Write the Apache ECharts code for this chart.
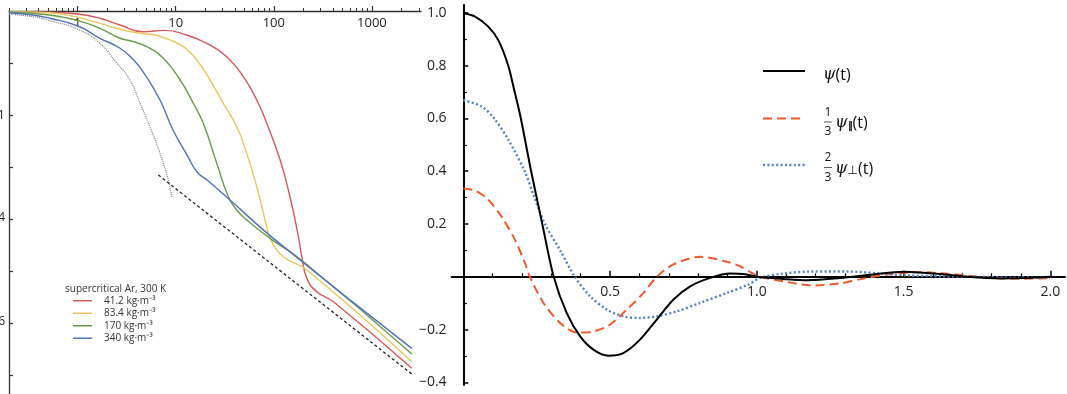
<!DOCTYPE html>
<html><head><meta charset="utf-8">
<script src="https://cdn.jsdelivr.net/npm/echarts@6/dist/echarts.min.js"></script>
<style>html,body{margin:0;padding:0;background:#fff}#c{width:1067px;height:394px}</style>
</head><body><div id="c"></div>
<script>
// ---------- Left panel (log-log) ----------
const leftXLabels = [1, 10, 100, 1000];
const leftYLabels = [1e-2, 1e-4, 1e-6];
const leftYTicks = [1e-7, 1e-6, 1e-5, 1e-4, 1e-3, 1e-2, 1e-1];
const leftLegendTitle = 'supercritical Ar, 300 K';
const densityNames = ['41.2 kg·m⁻³', '83.4 kg·m⁻³', '170 kg·m⁻³', '340 kg·m⁻³'];

const red412 = [[0.2,0.97],[0.52,0.944],[1.01,0.876],[1.69,0.724],[2.71,0.538],[4.65,0.40],[7.79,0.425],[12.9,0.345],[20.7,0.239],[33.1,0.132],[48.9,0.0545],[67,0.0194],[84.7,0.00692],[116,0.00136],[146,2.68e-4],[178,4.57e-5],[193,1.88e-5],[217,7.24e-6],[274,4.0e-6],[405,2.57e-6],[2547,1.35e-7]];
const yellow834 = [[0.2,0.969],[0.52,0.927],[1.01,0.756],[1.69,0.58],[2.71,0.445],[4.33,0.373],[6.16,0.345],[8.13,0.29],[12.0,0.206],[16.4,0.114],[22.4,0.0471],[30.6,0.0168],[41.9,0.00596],[53,0.00183],[67,4.18e-4],[84.7,7.11e-5],[91.5,4.25e-5],[125,1.88e-5],[217,1.05e-5],[2547,1.8e-7]];
const green170 = [[0.2,0.957],[0.52,0.838],[1.01,0.651],[1.69,0.465],[2.71,0.299],[3.42,0.268],[5.07,0.206],[7.48,0.123],[11.1,0.0471],[15.1,0.0168],[19.1,0.00692],[26.2,0.00118],[34.4,2.68e-4],[41.9,1.49e-4],[53,9.57e-5],[91.5,4.25e-5],[200,1.51e-5],[2547,2.53e-7]];
const blue340 = [[0.2,0.927],[0.351,0.838],[0.52,0.724],[1.01,0.515],[1.69,0.299],[2.71,0.192],[3.67,0.118],[4.68,0.0671],[6.92,0.0194],[9.39,0.00515],[13.05,0.0017],[16.5,8.0e-4],[20.9,5.62e-4],[35.8,2.32e-4],[98.9,4.25e-5],[2547,3.26e-7]];
const grayShort = [[0.2,0.864],[0.351,0.777],[0.52,0.651],[1.01,0.445],[1.69,0.239],[2.52,0.0986],[3.42,0.0471],[4.33,0.0168],[5.47,0.00596],[6.92,0.00183],[8.41,5.62e-4],[9.11,2.68e-4]];
const tailLine = [[6.65,7.02e-4],[2547,1.045e-7]];

// ---------- Right panel (linear) ----------
const rightXLabels = [0.5, 1.0, 1.5, 2.0];
const rightXMinor = [0.1,0.2,0.3,0.4,0.6,0.7,0.8,0.9,1.1,1.2,1.3,1.4,1.6,1.7,1.8,1.9];
const rightYLabels = [-0.4, -0.2, 0.2, 0.4, 0.6, 0.8, 1.0];
const rightYMinor = [-0.3, -0.1, 0.1, 0.3, 0.5, 0.7, 0.9];

const psiTotal = [[0,1.0],[0.04,0.986],[0.085,0.948],[0.12,0.895],[0.153,0.8],[0.175,0.7],[0.196,0.6],[0.231,0.4],[0.269,0.2],[0.308,0],[0.352,-0.137],[0.398,-0.226],[0.443,-0.276],[0.494,-0.299],[0.545,-0.289],[0.602,-0.238],[0.659,-0.162],[0.716,-0.086],[0.773,-0.036],[0.841,-0.004],[0.909,0.0125],[0.96,0.01],[1.0,0.0],[1.09,-0.008],[1.171,-0.013],[1.284,-0.005],[1.398,0.009],[1.5,0.019],[1.603,0.0125],[1.716,0],[1.83,-0.0065],[1.909,-0.005],[2.0,0]];
const psiParThird = [[0,0.335],[0.04,0.327],[0.085,0.292],[0.13,0.228],[0.176,0.14],[0.21,0.052],[0.227,0],[0.273,-0.099],[0.33,-0.175],[0.387,-0.211],[0.443,-0.207],[0.5,-0.181],[0.557,-0.124],[0.614,-0.061],[0.659,0],[0.716,0.047],[0.807,0.076],[0.898,0.057],[0.943,0.04],[0.972,0.022],[1.0,0.004],[1.091,-0.017],[1.193,-0.033],[1.284,-0.025],[1.364,-0.0065],[1.443,0.009],[1.557,0.0175],[1.671,0.009],[1.785,-0.003],[1.898,-0.0076],[2.0,-0.005]];
const psiPerpTwoThirds = [[0,0.67],[0.063,0.645],[0.105,0.6],[0.153,0.52],[0.209,0.4],[0.239,0.31],[0.278,0.2],[0.33,0.1],[0.38,0],[0.432,-0.074],[0.489,-0.124],[0.545,-0.15],[0.602,-0.156],[0.659,-0.15],[0.727,-0.131],[0.807,-0.099],[0.898,-0.061],[0.972,-0.029],[1.011,-0.004],[1.091,0.0125],[1.193,0.02],[1.307,0.02],[1.42,0.0125],[1.512,0.005],[1.625,0.002],[1.75,0],[1.875,-0.003],[2.0,-0.002]];

// minor ticks of the log x axis (2..9 in each decade)
const leftXMinor = [];
for (let e = -1; e <= 3; e++) for (let k = 2; k <= 9; k++) {
  const v = k * Math.pow(10, e);
  if (v >= 0.2 && v <= 3162) leftXMinor.push(v);
}

const FONT = 'Open Sans';
const LMIN_X = 0.2, LMAX_X = 3162.28, LMIN_Y = 4.32e-8, LMAX_Y = 1;
const RMIN_X = -0.04, RMAX_X = 2.05, RMIN_Y = -0.41, RMAX_Y = 1.03;
const fmtNum = v => (Number(v) < 0 ? '−' : '') + Math.abs(Number(v)).toFixed(1);

const chart = echarts.init(document.getElementById('c'), null, {renderer: 'canvas'});
const leftColors = ['#D6585A', '#E9C75E', '#6C9B4E', '#5272B8'];
const leftSets = [red412, yellow834, green170, blue340];

const series = [];
leftSets.forEach((d, i) => series.push({
  name: densityNames[i], type: 'line', xAxisIndex: 0, yAxisIndex: 0, data: d,
  showSymbol: false, smooth: 0.5, color: leftColors[i],
  lineStyle: {color: leftColors[i], width: 1.4}, z: 3
}));
series.push({name: 'short-time', type: 'line', xAxisIndex: 0, yAxisIndex: 0, data: grayShort,
  showSymbol: false, smooth: 0.5,
  lineStyle: {color: '#888', width: 1.3, type: [1, 1]}, z: 2});
series.push({name: 'tail', type: 'line', xAxisIndex: 0, yAxisIndex: 0, data: tailLine,
  showSymbol: false, lineStyle: {color: '#222', width: 1.3, type: [3, 2.5]}, z: 2});

series.push({name: 'psi', type: 'line', xAxisIndex: 2, yAxisIndex: 2, data: psiTotal,
  showSymbol: false, smooth: 0.3, lineStyle: {color: '#000', width: 2}, z: 5});
series.push({name: 'psiPar', type: 'line', xAxisIndex: 2, yAxisIndex: 2, data: psiParThird,
  showSymbol: false, smooth: 0.3, lineStyle: {color: '#EF5A2C', width: 2, type: [9, 5]}, z: 4});
series.push({name: 'psiPerp', type: 'line', xAxisIndex: 2, yAxisIndex: 2, data: psiPerpTwoThirds,
  showSymbol: false, smooth: 0.3, lineStyle: {color: '#5582C8', width: 2.4, type: [2, 2.4]}, z: 4});

const ZERO_Y = 5 + RMAX_Y / (RMAX_Y - RMIN_Y) * 380; // pixel row of psi = 0 (layout only)

const option = {
  animation: false,
  backgroundColor: '#fff',
  grid: [
    {left: 9, top: 11, width: 412, height: 383, outerBoundsMode: 'none'},
    {left: 451.6, top: 5, width: 613.4, height: 380, outerBoundsMode: 'none'},
    {left: 451.6, top: 5, width: 613.4, height: ZERO_Y - 5, outerBoundsMode: 'none'}
  ],
  xAxis: [
    {gridIndex: 0, type: 'log', position: 'top', min: LMIN_X, max: LMAX_X,
     axisLine: {onZero: false, lineStyle: {color: '#333', width: 1.3}},
     axisTick: {inside: false, length: 5, customValues: leftXLabels, lineStyle: {color: '#333', width: 1.2}},
     axisLabel: {inside: true, margin: 6, customValues: leftXLabels, fontFamily: FONT, fontSize: 13, color: '#222',
                 formatter: v => String(Math.round(v))},
     splitLine: {show: false}, minorTick: {show: false}},
    {gridIndex: 0, type: 'log', position: 'top', min: LMIN_X, max: LMAX_X,
     axisLine: {onZero: false, lineStyle: {opacity: 0}},
     axisTick: {inside: false, length: 3, customValues: leftXMinor, lineStyle: {color: '#333', width: 1}},
     axisLabel: {show: false}, splitLine: {show: false}},
    {gridIndex: 1, type: 'value', position: 'bottom', min: RMIN_X, max: RMAX_X,
     axisLine: {onZero: true, lineStyle: {color: '#000', width: 2}},
     axisTick: {inside: true, length: 6, customValues: rightXLabels, lineStyle: {color: '#000', width: 1.5}},
     axisLabel: {show: false},
     splitLine: {show: false}},
    {gridIndex: 1, type: 'value', position: 'bottom', min: RMIN_X, max: RMAX_X,
     axisLine: {onZero: true, lineStyle: {opacity: 0}},
     axisTick: {inside: true, length: 3.5, customValues: rightXMinor, lineStyle: {color: '#000', width: 1.2}},
     axisLabel: {show: false}, splitLine: {show: false}},
    {gridIndex: 2, type: 'value', position: 'bottom', min: RMIN_X, max: RMAX_X,
     axisLine: {show: false, onZero: false}, axisTick: {show: false},
     axisLabel: {margin: 8, customValues: rightXLabels, fontFamily: FONT, fontSize: 14, color: '#222', formatter: fmtNum},
     splitLine: {show: false}}
  ],
  yAxis: [
    {gridIndex: 0, type: 'log', min: LMIN_Y, max: LMAX_Y,
     axisLine: {onZero: false, lineStyle: {color: '#333', width: 1.3}},
     axisTick: {inside: true, length: 4, customValues: leftYTicks, lineStyle: {color: '#333', width: 1.2}},
     axisLabel: {margin: 4, customValues: leftYLabels, fontFamily: FONT, fontSize: 13, color: '#222',
       formatter: v => {
         const e = Math.round(Math.log10(v));
         return e === -2 ? '0.01' : '10{s|−' + (-e) + '}';
       },
       rich: {s: {fontFamily: FONT, fontSize: 12, color: '#222', padding: [0, 0, 3, 0]}}},
     splitLine: {show: false}},
    {gridIndex: 0, type: 'log', min: LMIN_Y, max: LMAX_Y, show: false},
    {gridIndex: 1, type: 'value', min: RMIN_Y, max: RMAX_Y,
     axisLine: {onZero: true, lineStyle: {color: '#000', width: 2}},
     axisTick: {inside: true, length: 5, customValues: rightYLabels, lineStyle: {color: '#000', width: 1.5}},
     axisLabel: {margin: 5, customValues: rightYLabels, fontFamily: FONT, fontSize: 14, color: '#222', formatter: fmtNum},
     splitLine: {show: false}},
    {gridIndex: 1, type: 'value', position: 'left', min: RMIN_Y, max: RMAX_Y,
     axisLine: {onZero: true, lineStyle: {opacity: 0}},
     axisTick: {inside: true, length: 3.5, customValues: rightYMinor, lineStyle: {color: '#000', width: 1.2}},
     axisLabel: {show: false}, splitLine: {show: false}},
    {gridIndex: 2, type: 'value', min: 0, max: 1, show: false}
  ],
  legend: [{
    data: densityNames, orient: 'vertical', left: 73, top: 294.5, padding: 0,
    icon: 'rect', itemWidth: 19, itemHeight: 1.5, itemGap: 0,
    textStyle: {fontFamily: FONT, fontSize: 10, color: '#333', lineHeight: 12.5, padding: [0, 0, 0, 7]},
    selectedMode: false
  }],
  graphic: [
    {type: 'text', left: 65, top: 284, style: {text: leftLegendTitle, fontFamily: FONT, fontSize: 10, fill: '#333'}},
    // right legend
    {type: 'line', shape: {x1: 763, y1: 71, x2: 805, y2: 71}, style: {stroke: '#000', lineWidth: 2}},
    {type: 'text', x: 823, y: 75, style: {text: '{i|ψ}(t)', fontFamily: FONT, fontSize: 16, fill: '#111', verticalAlign: 'middle',
      rich: {i: {fontFamily: 'DejaVu Serif', fontStyle: 'italic', fontSize: 16, fill: '#111'}}}},
    {type: 'line', shape: {x1: 763, y1: 118.5, x2: 803, y2: 118.5}, style: {stroke: '#EF5A2C', lineWidth: 2, lineDash: [9, 5]}},
    {type: 'text', x: 828, y: 113, style: {text: '1', fontFamily: FONT, fontSize: 12, fill: '#111', align: 'center', verticalAlign: 'middle'}},
    {type: 'line', shape: {x1: 824, y1: 122, x2: 832, y2: 122}, style: {stroke: '#333', lineWidth: 0.8}},
    {type: 'text', x: 828, y: 131.5, style: {text: '3', fontFamily: FONT, fontSize: 12, fill: '#111', align: 'center', verticalAlign: 'middle'}},
    {type: 'text', x: 835, y: 123, style: {text: '{i|ψ}{sub|∥}(t)', fontFamily: FONT, fontSize: 16, fill: '#111', verticalAlign: 'middle',
      rich: {i: {fontFamily: 'DejaVu Serif', fontStyle: 'italic', fontSize: 16, fill: '#111'},
             sub: {fontSize: 10, fill: '#111', verticalAlign: 'bottom', fontWeight: 'bold'}}}},
    {type: 'line', shape: {x1: 763, y1: 165, x2: 805, y2: 165}, style: {stroke: '#5582C8', lineWidth: 2.4, lineDash: [2, 2.4]}},
    {type: 'text', x: 828, y: 158, style: {text: '2', fontFamily: FONT, fontSize: 12, fill: '#111', align: 'center', verticalAlign: 'middle'}},
    {type: 'line', shape: {x1: 824, y1: 167.5, x2: 832, y2: 167.5}, style: {stroke: '#333', lineWidth: 0.8}},
    {type: 'text', x: 828, y: 177.5, style: {text: '3', fontFamily: FONT, fontSize: 12, fill: '#111', align: 'center', verticalAlign: 'middle'}},
    {type: 'text', x: 835, y: 169, style: {text: '{i|ψ}{sub|⊥}(t)', fontFamily: FONT, fontSize: 16, fill: '#111', verticalAlign: 'middle',
      rich: {i: {fontFamily: 'DejaVu Serif', fontStyle: 'italic', fontSize: 16, fill: '#111'},
             sub: {fontFamily: 'DejaVu Sans', fontSize: 12, fill: '#111', verticalAlign: 'bottom'}}}}
  ],
  series: series
};
chart.setOption(option);
</script></body></html>
